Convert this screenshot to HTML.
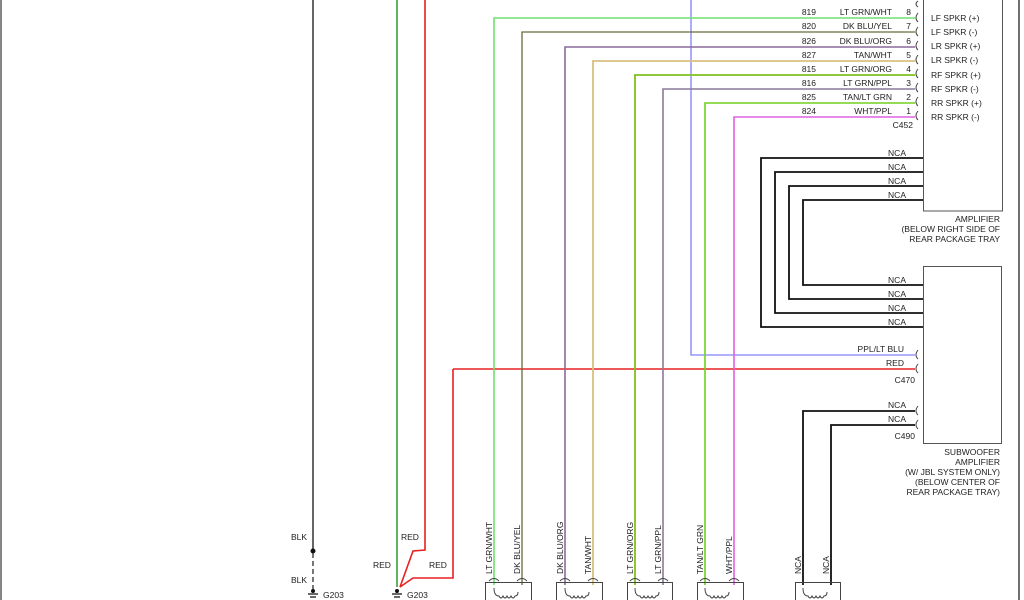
<!DOCTYPE html>
<html><head><style>
body{margin:0;background:#fff}
svg{display:block}
text{font-family:"Liberation Sans",sans-serif;font-size:8.5px;fill:#222}
</style></head><body>
<svg width="1024" height="600" viewBox="0 0 1024 600" xmlns="http://www.w3.org/2000/svg">
<g fill="none" stroke-width="1.3">
<!-- frame lines -->
<line x1="1" y1="0" x2="1" y2="600" stroke="#444"/>
<line x1="1019" y1="0" x2="1019" y2="600" stroke="#222"/>
<!-- boxes -->
<rect x="923.5" y="-2" width="79" height="213" stroke="#555" stroke-width="1"/>
<rect x="923.5" y="266.5" width="78" height="177" stroke="#555" stroke-width="1"/>
<!-- left ground wires -->
<line x1="313" y1="0" x2="313" y2="550" stroke="#555" stroke-width="1.8"/>
<line x1="313" y1="553" x2="313" y2="590" stroke="#555" stroke-width="1.6" stroke-dasharray="5,3"/>
<line x1="397" y1="0" x2="397" y2="587" stroke="#0a8a0a"/>
<polyline points="425,0 425,550 413,551 400,587" stroke="#e82020" stroke-width="1.6"/>
<polyline points="453,369 453,578 413,578 400,587" stroke="#e82020" stroke-width="1.6"/>
<line x1="453" y1="369" x2="915" y2="369" stroke="#e82020" stroke-width="1.6"/>
<polyline points="691,0 691,355 915,355" stroke="#8080ff"/>
<!-- speaker wires -->
<polyline points="494,585 494,18 915,18" stroke="#70e070" stroke-width="1.6"/>
<polyline points="522,585 522,32 915,32" stroke="#6a6a3a"/>
<polyline points="565,585 565,47 915,47" stroke="#8a6a9a" stroke-width="1.6"/>
<polyline points="593,585 593,61 915,61" stroke="#d8c080" stroke-width="1.8"/>
<polyline points="635,585 635,75 915,75" stroke="#80c020" stroke-width="1.8"/>
<polyline points="663,585 663,89 915,89" stroke="#8a7a9a" stroke-width="1.6"/>
<polyline points="705,585 705,103 915,103" stroke="#70d020" stroke-width="1.6"/>
<polyline points="734,585 734,117 915,117" stroke="#e060e0" stroke-width="1.6"/>
<!-- NCA black -->
<g stroke="#111" stroke-width="1.8">
<polyline points="923,158 761,158 761,327 923,327"/>
<polyline points="923,172 775,172 775,313 923,313"/>
<polyline points="923,186 789,186 789,299 923,299"/>
<polyline points="923,200 803,200 803,285 923,285"/>
<polyline points="915,411 803,411 803,585"/>
<polyline points="915,425 831,425 831,585"/>
</g>
<!-- connector arcs -->
<g stroke="#444" stroke-width="1">
<path d="M918,13 q-4,5 0,9 M918,27 q-4,5 0,9 M918,41 q-4,5 0,9 M918,55 q-4,5 0,9 M918,69 q-4,5 0,9 M918,83 q-4,5 0,9 M918,97 q-4,5 0,9 M918,111 q-4,5 0,9 M918,1 q-4,3 0,6"/>
<path d="M918,350 q-4,5 0,9 M918,364 q-4,5 0,9 M918,406 q-4,5 0,9 M918,420 q-4,5 0,9"/>
</g>
<!-- bottom connectors -->
<g stroke="#444" stroke-width="1">
<path d="M485.5,600 V582.5 H531.5 V600 M556.5,600 V582.5 H602.5 V600 M627.5,600 V582.5 H672.5 V600 M697.5,600 V582.5 H743.5 V600 M795.5,600 V582.5 H840.5 V600"/>
<path d="M489,581 q5,-5 10,0 M517,581 q5,-5 10,0 M560,581 q5,-5 10,0 M588,581 q5,-5 10,0 M630,581 q5,-5 10,0 M658,581 q5,-5 10,0 M700,581 q5,-5 10,0 M729,581 q5,-5 10,0"/>
<path d="M494,588 q0,8 5,8 q2,4 4,0 q2,4 4,0 q2,4 4,0 q2,4 4,0 q3,0 3,-4 M565,588 q0,8 5,8 q2,4 4,0 q2,4 4,0 q2,4 4,0 q2,4 4,0 q3,0 3,-4 M635,588 q0,8 5,8 q2,4 4,0 q2,4 4,0 q2,4 4,0 q2,4 4,0 q3,0 3,-4 M705,588 q0,8 5,8 q2,4 4,0 q2,4 4,0 q2,4 4,0 q2,4 4,0 q3,0 3,-4 M803,588 q0,8 5,8 q2,4 4,0 q2,4 4,0 q2,4 4,0 q2,4 4,0 q3,0 3,-4"/>
</g>
<!-- grounds -->
<g stroke="#111" stroke-width="1.3">
<path d="M308,594 h10 M310,597 h6 M397,589 v4 M392,594 h10 M394,597 h6"/>
</g>
</g>
<circle cx="313" cy="551" r="2.5" fill="#111"/>
<circle cx="313" cy="591" r="2" fill="#111"/>
<circle cx="397" cy="591" r="2" fill="#111"/>
<!-- labels -->
<g text-anchor="end">
<text x="816" y="15">819</text><text x="892" y="15">LT GRN/WHT</text><text x="911" y="15">8</text>
<text x="816" y="29">820</text><text x="892" y="29">DK BLU/YEL</text><text x="911" y="29">7</text>
<text x="816" y="44">826</text><text x="892" y="44">DK BLU/ORG</text><text x="911" y="44">6</text>
<text x="816" y="58">827</text><text x="892" y="58">TAN/WHT</text><text x="911" y="58">5</text>
<text x="816" y="72">815</text><text x="892" y="72">LT GRN/ORG</text><text x="911" y="72">4</text>
<text x="816" y="86">816</text><text x="892" y="86">LT GRN/PPL</text><text x="911" y="86">3</text>
<text x="816" y="100">825</text><text x="892" y="100">TAN/LT GRN</text><text x="911" y="100">2</text>
<text x="816" y="114">824</text><text x="892" y="114">WHT/PPL</text><text x="911" y="114">1</text>
<text x="913" y="128">C452</text>
<text x="906" y="156">NCA</text><text x="906" y="170">NCA</text><text x="906" y="184">NCA</text><text x="906" y="198">NCA</text>
<text x="906" y="283">NCA</text><text x="906" y="297">NCA</text><text x="906" y="311">NCA</text><text x="906" y="325">NCA</text>
<text x="904" y="352">PPL/LT BLU</text><text x="904" y="366">RED</text><text x="915" y="383">C470</text>
<text x="906" y="408">NCA</text><text x="906" y="422">NCA</text><text x="915" y="439">C490</text>
<text x="1000" y="222">AMPLIFIER</text>
<text x="1000" y="232">(BELOW RIGHT SIDE OF</text>
<text x="1000" y="242">REAR PACKAGE TRAY</text>
<text x="1000" y="455">SUBWOOFER</text>
<text x="1000" y="465">AMPLIFIER</text>
<text x="1000" y="475">(W/ JBL SYSTEM ONLY)</text>
<text x="1000" y="485">(BELOW CENTER OF</text>
<text x="1000" y="495">REAR PACKAGE TRAY)</text>
</g>
<g>
<text x="931" y="21">LF SPKR (+)</text><text x="931" y="35">LF SPKR (-)</text>
<text x="931" y="49">LR SPKR (+)</text><text x="931" y="63">LR SPKR (-)</text>
<text x="931" y="78">RF SPKR (+)</text><text x="931" y="92">RF SPKR (-)</text>
<text x="931" y="106">RR SPKR (+)</text><text x="931" y="120">RR SPKR (-)</text>
<text x="291" y="540">BLK</text><text x="291" y="583">BLK</text>
<text x="323" y="598">G203</text><text x="407" y="598">G203</text>
<text x="401" y="540">RED</text><text x="373" y="568">RED</text><text x="429" y="568">RED</text>
</g>
<g>
<text transform="translate(492,574) rotate(-90)">LT GRN/WHT</text>
<text transform="translate(520,574) rotate(-90)">DK BLU/YEL</text>
<text transform="translate(563,574) rotate(-90)">DK BLU/ORG</text>
<text transform="translate(591,574) rotate(-90)">TAN/WHT</text>
<text transform="translate(633,574) rotate(-90)">LT GRN/ORG</text>
<text transform="translate(661,574) rotate(-90)">LT GRN/PPL</text>
<text transform="translate(703,574) rotate(-90)">TAN/LT GRN</text>
<text transform="translate(732,574) rotate(-90)">WHT/PPL</text>
<text transform="translate(801,574) rotate(-90)">NCA</text>
<text transform="translate(829,574) rotate(-90)">NCA</text>
</g>
</svg>
</body></html>
